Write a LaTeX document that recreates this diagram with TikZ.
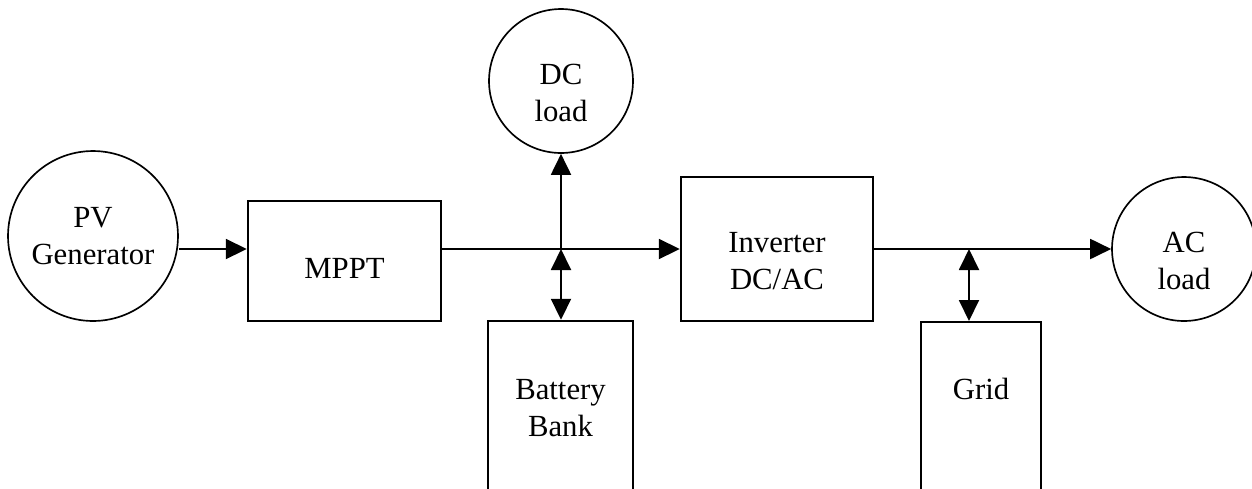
\documentclass[tikz,border=0pt]{standalone}
\usepackage{fontspec}
\setmainfont{Liberation Serif}
\usetikzlibrary{arrows.meta}

\newcommand{\drop}{\rule{0pt}{0.9cm}}

\begin{document}
\begin{tikzpicture}[x=0.02cm, y=-0.02cm,
  every node/.style={font=\fontsize{17.5}{21}\selectfont, align=center},
  block/.style={draw, line width=1.4pt, inner sep=0pt},
  load/.style={draw, circle, line width=0.95pt, inner sep=0pt, minimum size=2.88cm},
  flow/.style={line width=1.1pt, -{Triangle[length=0.42cm, width=0.4cm]}},
  link/.style={line width=1.1pt, {Triangle[length=0.42cm, width=0.4cm]}-{Triangle[length=0.42cm, width=0.4cm]}}]
  \useasboundingbox (0,0) rectangle (1252,488);
  \node[load, minimum size=3.4cm] (pv) at (93,236) {PV\\Generator};
  \node[block, minimum width=3.86cm, minimum height=2.4cm, text height=0.7cm] (mppt) at (344.5,261) {MPPT};
  \node[load] (dc) at (561,81) {\drop DC\\load};
  \node[block, minimum width=2.9cm, minimum height=3.48cm] (batt) at (560.5,408) {Battery\\Bank};
  \node[block, minimum width=3.84cm, minimum height=2.88cm] (inv) at (777,249) {\drop Inverter\\DC/AC};
  \node[block, minimum width=2.4cm, text height=1.54cm, text depth=2cm, anchor=north] (grid) at (981,321) {Grid};
  \node[load] (ac) at (1184,249) {\drop AC\\load};
  \coordinate (j1) at (561,249);
  \coordinate (j2) at (969,249);
  \draw[flow] (pv.east |- j1) -- (mppt.west |- j1);
  \draw[flow] (mppt.east |- j1) -- (inv.west);
  \draw[flow] (j1) -- (dc.south);
  \draw[link] (j1) -- (j1 |- batt.north);
  \draw[flow] (inv.east) -- (ac.west);
  \draw[link] (j2) -- (j2 |- grid.north);
\end{tikzpicture}
\end{document}
